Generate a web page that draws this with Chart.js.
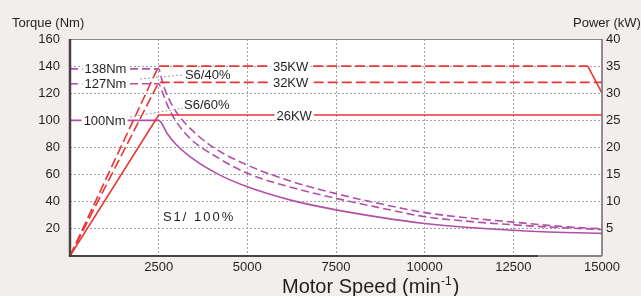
<!DOCTYPE html>
<html>
<head>
<meta charset="utf-8">
<script src="https://cdn.jsdelivr.net/npm/chart.js@4"></script>
<style>
  html,body{margin:0;padding:0;background:#f2eeeb;}
  #wrap{width:641px;height:296px;}
</style>
</head>
<body>
<div id="wrap"><canvas id="c" width="641" height="296"></canvas></div>
<script>
/* torque curves (Nm) vs motor speed (min-1) */
const s40Speed  = [0, 2500, 2600, 2700, 3000, 3600, 4200, 5000, 6250, 7500, 8750, 10000, 11250, 12500, 13750, 15000];
const s40Torque = [138, 138, 129, 121, 106, 89, 77.5, 67, 55, 46, 38.5, 32, 28, 25, 22, 20];
const s60Speed  = [0, 2500, 2585, 2800, 3300, 4200, 5000, 6250, 7500, 8750, 10000, 11250, 12500, 13750, 15000];
const s60Torque = [127, 127, 122, 108, 89, 72, 61, 50.5, 42.5, 35.5, 29, 25.5, 23, 21, 19.5];
const s1Speed   = [0, 2500, 2750, 3000, 3500, 4200, 5000, 6250, 7500, 8750, 10000, 11250, 12500, 13750, 15000];
const s1Torque  = [100, 100, 90, 82, 71, 60, 51, 41, 34, 28.5, 24, 21, 19, 17.5, 16.7];

/* power lines (kW) */
const p40Speed = [0, 2500, 14600, 15000];
const p40Power = [0, 35, 35, 30];
const p60Speed = [0, 2500, 15000];
const p60Power = [0, 32, 32];
const p1Speed  = [0, 2500, 15000];
const p1Power  = [0, 26, 26];

const RED = "#ec3434", PURPLE = "#b24fa6";
const FONT = "'Liberation Sans', Arial, Helvetica, sans-serif";
const TXT = "#231f20";

function pts(xs, ys){ return xs.map((x,i)=>({x, y:ys[i]})); }

/* labels on lines: [text, speed, value, axis] */
const lineLabels = [
  ["138Nm", 1000, 138, "y"], ["127Nm", 1000, 127, "y"], ["100Nm", 975, 100, "y"],
  ["35KW", 6220, 35, "y2"], ["32KW", 6220, 32, "y2"], ["26KW", 6320, 26, "y2"]
];

const bgPlugin = {
  id:"bg",
  beforeDraw(chart){
    const {ctx, chartArea:a} = chart;
    ctx.save();
    ctx.fillStyle = "#f2eeeb"; ctx.fillRect(0,0,chart.width,chart.height);
    ctx.fillStyle = "#fff"; ctx.fillRect(a.left,a.top,a.right-a.left,a.bottom-a.top);
    ctx.restore();
  },
  afterDatasetsDraw(chart){
    const {ctx, chartArea:a, scales} = chart;
    const sx = scales.x, sy = scales.y, sp = scales.y2;
    ctx.save();
    // frame
    ctx.strokeStyle = "#8a8686"; ctx.lineWidth = 1;
    ctx.beginPath(); ctx.moveTo(a.left, a.top+0.5); ctx.lineTo(a.right, a.top+0.5); ctx.stroke();
    ctx.strokeStyle = "#6f6a6a"; ctx.lineWidth = 1.5;
    ctx.beginPath(); ctx.moveTo(a.right, a.top); ctx.lineTo(a.right, a.bottom); ctx.stroke();
    ctx.strokeStyle = "#8a8484"; ctx.lineWidth = 2;
    ctx.beginPath(); ctx.moveTo(sx.getPixelForValue(13200), a.bottom); ctx.lineTo(a.right, a.bottom); ctx.stroke();
    ctx.strokeStyle = "#4a4242"; ctx.lineWidth = 2;
    ctx.beginPath(); ctx.moveTo(a.left, a.bottom); ctx.lineTo(sx.getPixelForValue(13200), a.bottom); ctx.stroke();
    ctx.lineWidth = 2.5;
    ctx.beginPath(); ctx.moveTo(a.left, a.top); ctx.lineTo(a.left, a.bottom+1); ctx.stroke();

    // leader lines
    ctx.strokeStyle = "#a0a0a0"; ctx.lineWidth = 1; ctx.setLineDash([2,2]);
    ctx.beginPath();
    ctx.moveTo(sx.getPixelForValue(1975), sy.getPixelForValue(130.5)); ctx.lineTo(sx.getPixelForValue(3180), sy.getPixelForValue(133.5));
    ctx.moveTo(sx.getPixelForValue(1690), sy.getPixelForValue(102.5)); ctx.lineTo(sx.getPixelForValue(3180), sy.getPixelForValue(109));
    ctx.stroke();
    ctx.setLineDash([]);

    // labels on lines
    ctx.font = "13px " + FONT; ctx.textBaseline = "middle"; ctx.textAlign = "center";
    lineLabels.forEach(([t, s, v, ax])=>{
      const x = sx.getPixelForValue(s), y = (ax==="y"?sy:sp).getPixelForValue(v);
      const w = ctx.measureText(t).width;
      ctx.fillStyle = "#fff"; ctx.fillRect(x-w/2-2, y-5, w+4, 10);
      ctx.fillStyle = TXT; ctx.fillText(t, x, y+1);
    });

    // duty labels
    ctx.textAlign = "left";
    ctx.fillText("S6/40%", sx.getPixelForValue(3240), sy.getPixelForValue(133.5));
    ctx.fillText("S6/60%", sx.getPixelForValue(3215), sy.getPixelForValue(111.3));
    ctx.letterSpacing = "2px";
    ctx.fillText("S1/ 100%", sx.getPixelForValue(2620), sy.getPixelForValue(28.8));
    ctx.letterSpacing = "0px";

    // axis titles
    ctx.textBaseline = "alphabetic";
    ctx.fillText("Torque (Nm)", 12, 27);
    ctx.fillText("Power (kW)", 573, 27);
    ctx.font = "20px " + FONT;
    const t1 = "Motor Speed (min";
    const x0 = 282, yb = 293;
    ctx.fillText(t1, x0, yb);
    let w1 = ctx.measureText(t1).width;
    ctx.font = "12px " + FONT;
    ctx.fillText("-1", x0 + w1, yb - 8);
    const w2 = ctx.measureText("-1").width;
    ctx.font = "20px " + FONT;
    ctx.fillText(")", x0 + w1 + w2 + 1, yb);
    ctx.restore();
  }
};

function curveDs(data, color, dash){
  return { data, borderColor:color, borderWidth:1.6, pointRadius:0, fill:false,
    borderDash:dash, yAxisID:"y", cubicInterpolationMode:"monotone", showLine:true };
}
function powerDs(data, dash){
  return { data, borderColor:RED, borderWidth:1.6, pointRadius:0, fill:false,
    borderDash:dash, yAxisID:"y2", cubicInterpolationMode:"default", tension:0, showLine:true };
}

const tickFont = { family:FONT, size:13 };
const hideZero = v => v === 0 ? "" : String(v);

new Chart(document.getElementById("c"), {
  type:"scatter",
  data:{ datasets:[
    Object.assign(powerDs(pts(p40Speed,p40Power), [10,4]),
      { segment:{ borderDash: c => c.p0DataIndex === 2 ? [] : [10,4] } }),
    powerDs(pts(p60Speed,p60Power), [10,4]),
    powerDs(pts(p1Speed,p1Power), []),
    curveDs(pts(s40Speed,s40Torque), PURPLE, [8,4]),
    curveDs(pts(s60Speed,s60Torque), PURPLE, [8,4]),
    curveDs(pts(s1Speed,s1Torque), PURPLE, [])
  ]},
  options:{
    responsive:false, animation:false, devicePixelRatio:1,
    layout:{ padding:{ top:39, left:0, right:0, bottom:0 } },
    plugins:{ legend:{display:false}, tooltip:{enabled:false} },
    scales:{
      x:{ type:"linear", min:0, max:15000,
        ticks:{ stepSize:2500, callback:hideZero, font:tickFont, color:TXT, padding:4, maxRotation:0, autoSkip:false },
        grid:{ drawTicks:false, color: c => (c.tick && (c.tick.value===0 || c.tick.value===15000)) ? "rgba(0,0,0,0)" : "#a3a3a3" },
        border:{ display:false, dash:[2,2] },
        afterFit: s => { s.height = 40; } },
      y:{ position:"left", min:0, max:160,
        ticks:{ stepSize:20, callback:hideZero, font:tickFont, color:TXT, padding:10 },
        grid:{ drawTicks:false, color: c => (c.tick && (c.tick.value===0 || c.tick.value===160)) ? "rgba(0,0,0,0)" : "#a3a3a3" },
        border:{ display:false, dash:[2,2] },
        afterFit: s => { s.width = 70; } },
      y2:{ position:"right", min:0, max:40,
        ticks:{ stepSize:5, callback:hideZero, font:tickFont, color:TXT, padding:4 },
        grid:{ display:false, drawTicks:false },
        border:{ display:false },
        afterFit: s => { s.width = 39; } }
    }
  },
  plugins:[bgPlugin]
});
</script>
</body>
</html>
